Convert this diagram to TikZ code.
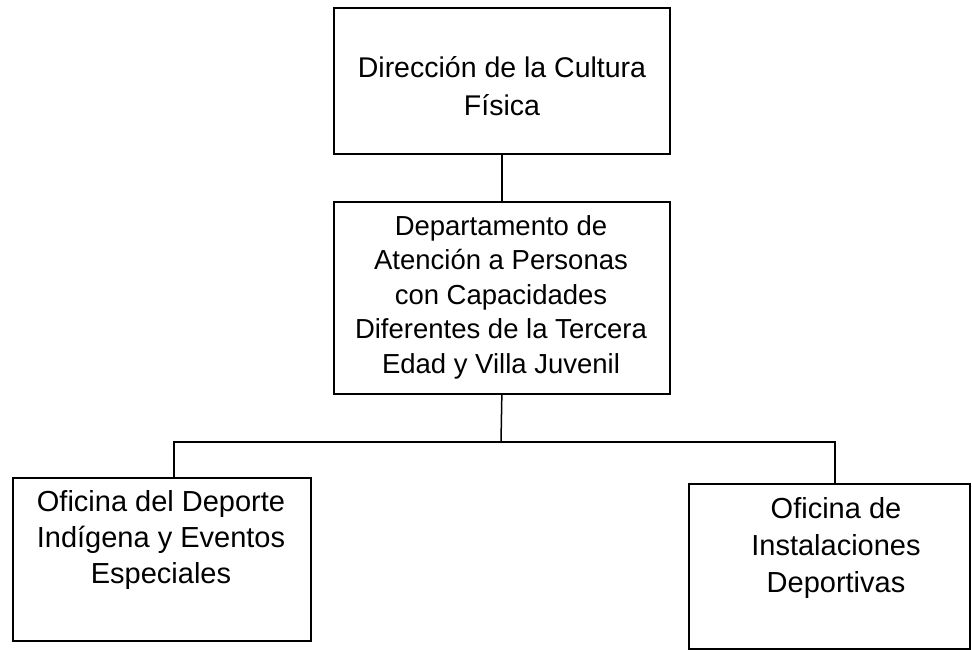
\documentclass[tikz,border=0pt]{standalone}
\usepackage{fontspec}
\setmainfont{Liberation Sans}
\begin{document}
\begin{tikzpicture}[x=1pt,y=-1pt,
  box/.style={draw, line width=1.7pt, inner sep=0pt, anchor=north west},
  lbl/.style={align=center, inner sep=0pt},
  link/.style={line width=1.5pt}]
\useasboundingbox (0,0) rectangle (972,650);
% boxes
\node[box, minimum width=336pt, minimum height=146pt] (top) at (333,7) {};
\node[box, minimum width=336pt, minimum height=192pt] (mid) at (333,201) {};
\node[box, minimum width=298pt, minimum height=163pt] (left) at (12,477) {};
\node[box, minimum width=281pt, minimum height=165pt] (right) at (688,483) {};
% texts
\node[lbl, font=\fontsize{28.5}{38}\selectfont] (toptxt) at (502,86) {Dirección de la Cultura\\Física};
\node[lbl, font=\fontsize{27.5}{34.5}\selectfont] (midtxt) at (501,297) {Departamento de\\Atención a Personas\\con Capacidades\\Diferentes de la Tercera\\Edad y Villa Juvenil};
\node[lbl, font=\fontsize{29}{36}\selectfont] (lefttxt) at (161,540) {Oficina del Deporte\\Indígena y Eventos\\Especiales};
\node[lbl, font=\fontsize{29}{37}\selectfont] (righttxt) at (836,548) {Oficina de\\Instalaciones\\Deportivas};
% connectors
\coordinate (bus) at (501,442);
\coordinate (bl) at (174,442);
\coordinate (br) at (835,442);
\draw[link] (top.south) -- (mid.north);
\draw[link] (mid.south) -- (bus);
\draw[link] (bl |- left.north) -- (bl) -- (br) -- (br |- right.north);
\end{tikzpicture}
\end{document}
